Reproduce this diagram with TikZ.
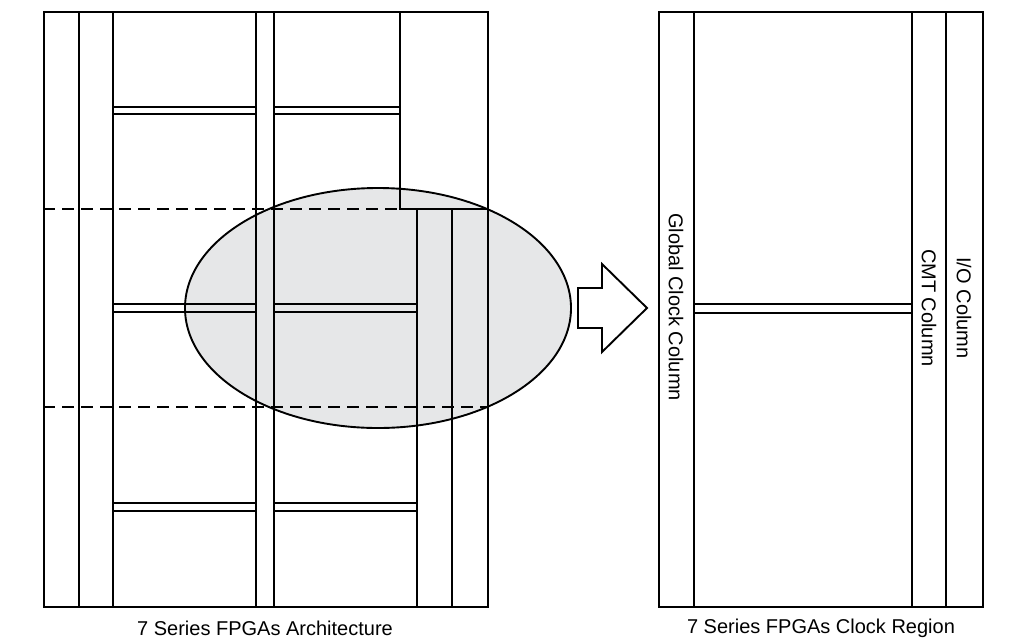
\documentclass[tikz,border=0pt]{standalone}
\usepackage{fontspec}
\setmainfont{Liberation Sans}
\usetikzlibrary{positioning}
\definecolor{zonegray}{HTML}{E6E7E8}

\begin{document}
\begin{tikzpicture}[
  x=1pt, y=-1pt,
  line width=1.9pt, line join=miter,
  every node/.style={font=\fontsize{20}{24}\selectfont, inner sep=0pt},
  panel/.style={draw, rectangle, anchor=north west, inner sep=0pt},
  region/.style={fill=zonegray},
  cut/.style={dash pattern=on 12pt off 7pt},
  collabel/.style={rotate=-90}
]
\useasboundingbox (0,0) rectangle (1009,641);

% highlighted clock region
\fill[region] (378,308) ellipse [x radius=193pt, y radius=120pt];

% left: whole device
\node[panel, minimum width=444pt, minimum height=595pt] (arch) at (43,11) {};
\draw (79,11) -- (79,606);
\draw (113,11) -- (113,606);
\draw (256,11) -- (256,606);
\draw (274,11) -- (274,606);
\draw (400,11) -- (400,209) -- (487,209);
\draw (417,209) -- (417,606);
\draw (452,209) -- (452,606);

% horizontal clock rows
\draw (113,107) -- (256,107) (113,114) -- (256,114);
\draw (274,107) -- (400,107) (274,114) -- (400,114);
\draw (113,304) -- (256,304) (113,312) -- (256,312);
\draw (274,304) -- (417,304) (274,312) -- (417,312);
\draw (113,503) -- (256,503) (113,511) -- (256,511);
\draw (274,503) -- (417,503) (274,511) -- (417,511);

% region boundaries
\draw[cut] (43,209) -- (400,209);
\draw[cut] (43,407) -- (487,407);

\draw (378,308) ellipse [x radius=193pt, y radius=120pt];

\node (archcap) at (265,628) {7 Series FPGAs Architecture};

% zoom arrow
\draw[fill=white] (578,288) -- (602,288) -- (602,264) -- (647,308)
  -- (602,352) -- (602,328) -- (578,328) -- cycle;

% right: one clock region
\node[panel, minimum width=324pt, minimum height=595pt] (region) at (658,11) {};
\draw (694,11) -- (694,606);
\draw (912,11) -- (912,606);
\draw (946,11) -- (946,606);
\draw (694,304) -- (912,304) (694,313) -- (912,313);

\node[collabel] (gclk) at (676,307) {Global Clock Column};
\node[collabel] (cmt) at (929,308) {CMT Column};
\node[collabel] (io) at (964,308) {I/O Column};

\node (regcap) at (821,628) {7 Series FPGAs Clock Region};
\end{tikzpicture}
\end{document}
